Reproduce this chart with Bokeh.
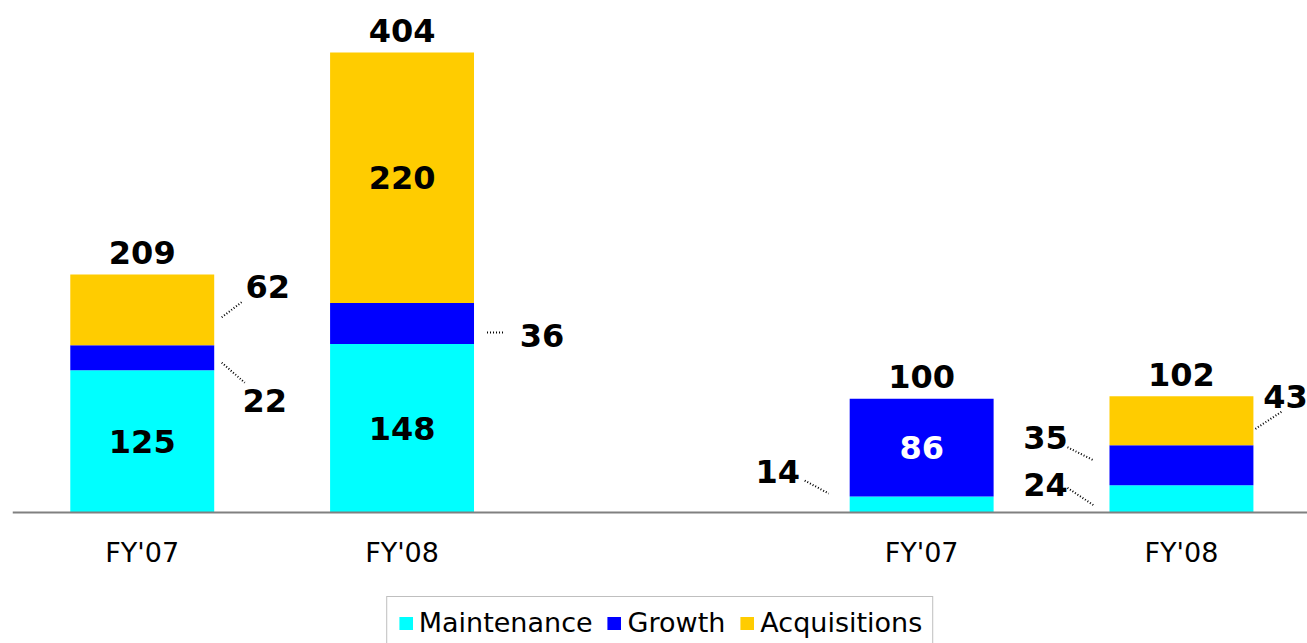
from bokeh.plotting import figure
from bokeh.models import ColumnDataSource, Legend, LegendItem, FixedTicker
from bokeh.core.properties import value
from bokeh.embed import file_html
from bokeh.resources import INLINE

# ---- data ----
periods = ["FY'07", "FY'08", "FY'07", "FY'08"]
maintenance = [125, 148, 14, 24]
growth = [22, 36, 86, 35]
acquisitions = [62, 220, 0, 43]
totals = [209, 404, 100, 102]
series_names = ["Maintenance", "Growth", "Acquisitions"]

# ---- layout / style ----
slots = [0, 1, 3, 4]
colors = ["#00FFFF", "#0000FF", "#FFCC00"]
XPX = 259.8      # px per x unit
YPX = 1.1386     # px per y unit
BAR_W = 0.554
W, H = 1307, 643
LEFT = 12
FRAME_W = W - LEFT
X0 = -(141.75 - LEFT) / XPX
BASE_PX = 512
Y_BELOW = (H - BASE_PX) / YPX
Y_ABOVE = BASE_PX / YPX
FONT = "DejaVu Sans"
LBL_SIZE = "32px"
SHIFT = 0.0   # px, baseline correction for centering digits

series = [maintenance, growth, acquisitions]

p = figure(width=W, height=H, x_range=(X0, X0 + FRAME_W / XPX),
           y_range=(-Y_BELOW, Y_ABOVE), output_backend="svg",
           toolbar_location=None, y_axis_location=None,
           min_border_left=LEFT, min_border_right=0, min_border_top=0, min_border_bottom=0)
p.outline_line_color = None
p.grid.visible = False
p.background_fill_color = "white"

src = ColumnDataSource(dict(x=slots, maintenance=maintenance, growth=growth,
                            acquisitions=acquisitions))
renderers = p.vbar_stack(["maintenance", "growth", "acquisitions"], x="x", width=BAR_W,
                         fill_color=colors, line_color=None, source=src)

# x axis at y=0
ax = p.xaxis[0]
ax.fixed_location = 0
ax.ticker = FixedTicker(ticks=slots)
ax.major_label_overrides = {s: lab for s, lab in zip(slots, periods)}
ax.major_label_text_font = FONT
ax.major_label_text_font_size = "27px"
ax.major_label_text_color = "black"
ax.axis_line_color = "#808080"
ax.axis_line_width = 2
ax.major_tick_line_color = None
ax.minor_tick_line_color = None
ax.major_tick_out = 0
ax.major_tick_in = 0
ax.major_label_standoff = 24

# segment geometry
def seg_bounds(i, k):
    base = sum(series[j][i] for j in range(k))
    return base, base + series[k][i]

def seg_center(i, k):
    b, t = seg_bounds(i, k)
    return (b + t) / 2

tx, ty, tt, tc = [], [], [], []

# totals above bars
for i in range(len(slots)):
    top = sum(s[i] for s in series)
    tx.append(slots[i]); ty.append(top + 22 / YPX); tt.append(str(totals[i])); tc.append("black")

# inside labels (bar, series, color)
inside = [(0, 0, "black"), (1, 0, "black"), (1, 2, "black"), (2, 1, "white")]
for i, k, c in inside:
    tx.append(slots[i]); ty.append(seg_center(i, k) - SHIFT / YPX)
    tt.append(str(series[k][i])); tc.append(c)

# outside labels with dotted leaders: (bar, series, side, dx, dy, leader px offsets)
outside = [
    (0, 2, "right", 53.5, -23.5, (7.5, 7.5, 28.5, -8.5)),
    (0, 1, "right", 50.5, 43, (7.5, 5, 30.5, 25)),
    (1, 1, "right", 68, 12, (13, 9, 31, 9)),
    (2, 0, "left", -72, -33, (-45, -24, -21, -11)),
    (3, 2, "right", 32, -24, (2, 8, 28, -9)),
    (3, 1, "left", -64, -28, (-42, -18, -16, -5)),
    (3, 0, "left", -64, -14, (-42, -11, -15, 7)),
]
lx0, ly0, lx1, ly1 = [], [], [], []
for i, k, side, dx, dy, (a, b, c, d) in outside:
    edge = slots[i] + (BAR_W / 2 if side == "right" else -BAR_W / 2)
    yc = seg_center(i, k)
    tx.append(edge + dx / XPX); ty.append(yc - (dy + SHIFT) / YPX)
    tt.append(str(series[k][i])); tc.append("black")
    lx0.append(edge + a / XPX); ly0.append(yc - b / YPX)
    lx1.append(edge + c / XPX); ly1.append(yc - d / YPX)

p.segment(lx0, ly0, lx1, ly1, line_color="black", line_width=2, line_dash="1 2")

lsrc = ColumnDataSource(dict(x=tx, y=ty, t=tt, c=tc))
p.text("x", "y", text="t", text_color="c", source=lsrc, text_align="center",
       text_baseline="alphabetic", text_font=value(FONT), text_font_style="bold",
       text_font_size=LBL_SIZE)

legend = Legend(items=[LegendItem(label=n, renderers=[r]) for n, r in zip(series_names, renderers)],
                orientation="horizontal", location="bottom_center", margin=-6,
                label_text_font=FONT, label_text_font_size="27px", label_text_color="black",
                glyph_width=17, glyph_height=16, label_standoff=5, spacing=13,
                padding=10, border_line_color="#808080", border_line_width=1,
                background_fill_color="white", background_fill_alpha=1.0)
p.add_layout(legend, "center")

open("out.html", "w").write(file_html(p, INLINE))
